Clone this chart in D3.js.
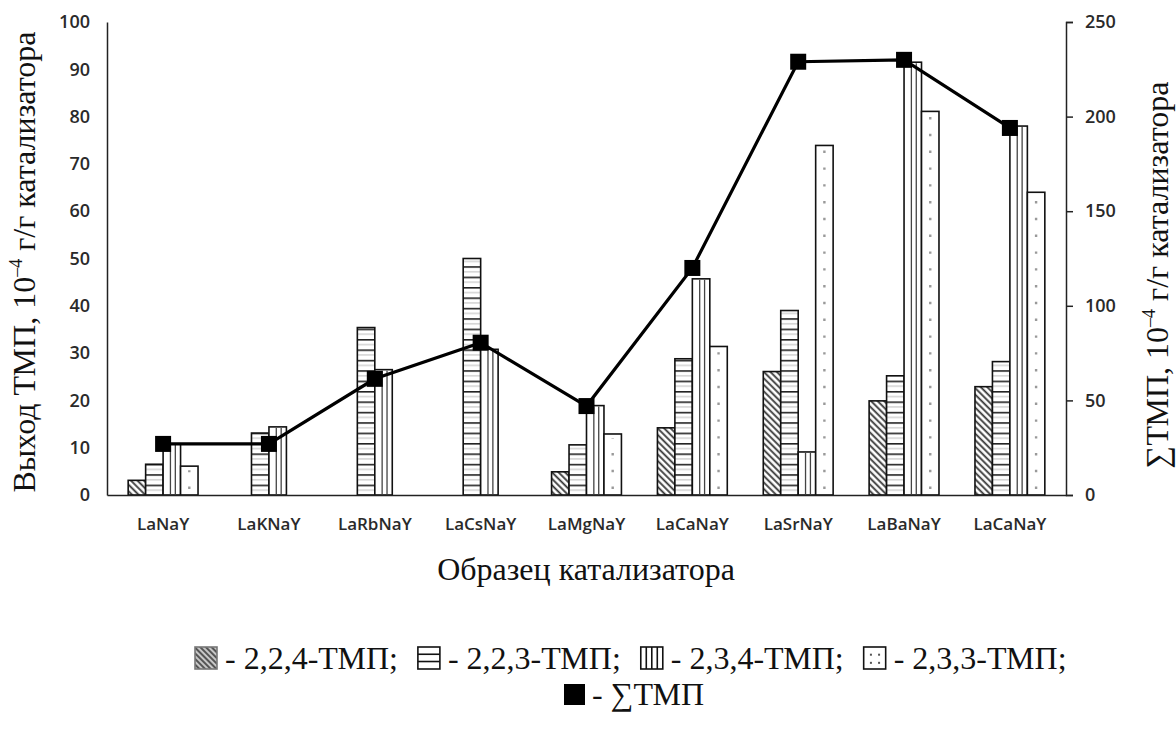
<!DOCTYPE html>
<html><head><meta charset="utf-8">
<script src="https://cdn.jsdelivr.net/npm/d3@7"></script>
<style>body{margin:0;background:#fff}svg{display:block}</style>
</head><body>
<script>
const categories = ["LaNaY","LaKNaY","LaRbNaY","LaCsNaY","LaMgNaY","LaCaNaY","LaSrNaY","LaBaNaY","LaCaNaY"];
const s224 = [3.1, 0, 0, 0, 4.9, 14.2, 26.1, 19.9, 22.9];
const s223 = [6.5, 13.1, 35.4, 50, 10.6, 28.8, 39.0, 25.2, 28.2];
const s234 = [10.8, 14.4, 26.5, 30.8, 18.9, 45.7, 9.1, 91.5, 78.0];
const s233 = [6.1, 0, 0, 0, 12.9, 31.4, 73.9, 81.1, 64.0];
const sumTMP = [27, 27, 61.4, 80.5, 47, 120, 229, 230, 194];
const leftTicks = [0,10,20,30,40,50,60,70,80,90,100];
const rightTicks = [0,50,100,150,200,250];
const seriesNames = ["2,2,4-ТМП","2,2,3-ТМП","2,3,4-ТМП","2,3,3-ТМП"];

const W = 1176, H = 729;
const L = 107, R = 1066, T = 22, B = 495;
const svg = d3.select("body").append("svg").attr("width", W).attr("height", H);
svg.append("rect").attr("width", W).attr("height", H).attr("fill", "#fff");

const defs = svg.append("defs");
const ph = defs.append("pattern").attr("id","hatch").attr("patternUnits","userSpaceOnUse")
  .attr("width",4.6).attr("height",4.6).attr("patternTransform","rotate(-45)");
ph.append("rect").attr("width",4.6).attr("height",4.6).attr("fill","#fff");
ph.append("line").attr("x1",1.2).attr("y1",0).attr("x2",1.2).attr("y2",4.6).attr("stroke","#333").attr("stroke-width",1.8);
const ph2 = defs.append("pattern").attr("id","hatchLeg").attr("patternUnits","userSpaceOnUse")
  .attr("width",4).attr("height",4).attr("patternTransform","rotate(-45)");
ph2.append("rect").attr("width",4).attr("height",4).attr("fill","#555");
ph2.append("line").attr("x1",2).attr("y1",0).attr("x2",2).attr("y2",4).attr("stroke","#eee").attr("stroke-width",1.5);
const phz = defs.append("pattern").attr("id","hstripe").attr("patternUnits","userSpaceOnUse")
  .attr("width",10).attr("height",10.4).attr("y", B);
phz.append("rect").attr("width",10).attr("height",10.4).attr("fill","#fff");
phz.append("line").attr("x1",0).attr("x2",10).attr("y1",0.8).attr("y2",0.8).attr("stroke","#222").attr("stroke-width",1.6);
phz.append("line").attr("x1",0).attr("x2",10).attr("y1",5.6).attr("y2",5.6).attr("stroke","#bbb").attr("stroke-width",1);

const x = d3.scaleBand().domain(d3.range(categories.length)).range([L, R]).paddingInner(0.34).paddingOuter(0.2);
const x1 = d3.scaleBand().domain([0,1,2,3]).range([0, x.bandwidth()]);
const yL = d3.scaleLinear().domain([0,100]).range([B, T]);
const yR = d3.scaleLinear().domain([0,250]).range([B, T]);

const tickFont = "'Open Sans', sans-serif";
const serif = "'Liberation Serif', 'Times New Roman', serif";

// left axis
const gL = svg.append("g").attr("transform",`translate(${L},0)`)
  .call(d3.axisLeft(yL).tickValues(leftTicks).tickSize(0).tickPadding(17));
gL.select(".domain").attr("stroke","#222").attr("stroke-width",1.5);
gL.selectAll("text").attr("font-family",tickFont).attr("font-size",18).attr("font-weight",600).attr("fill","#2a2a2a");

// right axis
const gR = svg.append("g").attr("transform",`translate(${R},0)`)
  .call(d3.axisRight(yR).tickValues(rightTicks).tickSize(7).tickPadding(12));
gR.select(".domain").attr("stroke","#222").attr("stroke-width",1.5);
gR.selectAll("line").attr("stroke","#222").attr("stroke-width",1.5);
gR.selectAll("text").attr("font-family",tickFont).attr("font-size",18).attr("font-weight",600).attr("fill","#2a2a2a");

// bars
const series = [s224, s223, s234, s233];
series.forEach((arr, si) => {
  const g = svg.append("g");
  arr.forEach((v, i) => {
    if (v <= 0) return;
    const bx = x(i) + x1(si), bw = x1.bandwidth(), by = yL(v), bh = yL(0) - yL(v);
    let fill = "#fff";
    if (si === 0) fill = "url(#hatch)";
    if (si === 1) fill = "url(#hstripe)";
    g.append("rect").attr("x", bx).attr("y", by).attr("width", bw).attr("height", bh)
      .attr("fill", fill).attr("stroke", "#111").attr("stroke-width", 1.6);
    if (si === 2) {
      [0.42, 0.7].forEach(f => g.append("line").attr("x1", bx + bw*f).attr("x2", bx + bw*f)
        .attr("y1", by + 1).attr("y2", B).attr("stroke", "#444").attr("stroke-width", 1.3));
    }
    if (si === 3) {
      g.append("line").attr("x1", bx + bw*0.5).attr("x2", bx + bw*0.5)
        .attr("y1", B - 6).attr("y2", by + 4).attr("stroke", "#999").attr("stroke-width", 2.4)
        .attr("stroke-dasharray", "2.4 14.4");
    }
  });
});

// x axis
const gX = svg.append("g").attr("transform",`translate(0,${B})`)
  .call(d3.axisBottom(x).tickSize(0).tickPadding(23).tickFormat(i => categories[i]));
gX.select(".domain").attr("stroke","#222").attr("stroke-width",1.5);
gX.selectAll("text").attr("font-family",tickFont).attr("font-size",17).attr("font-weight",600).attr("fill","#2a2a2a");

// sum line
const cx = i => x(i) + x.bandwidth()/2;
svg.append("path").datum(sumTMP)
  .attr("d", d3.line().x((d,i) => cx(i)).y(d => yR(d)))
  .attr("fill","none").attr("stroke","#000").attr("stroke-width",3.2);
svg.append("g").selectAll("rect").data(sumTMP).join("rect")
  .attr("x",(d,i)=>cx(i)-8).attr("y",d=>yR(d)-8).attr("width",16).attr("height",16).attr("fill","#000");

// titles
svg.append("text").attr("x", 586).attr("y", 580).attr("text-anchor","middle")
  .attr("font-family", serif).attr("font-size", 32).attr("fill","#111").text("Образец катализатора");

const lt = svg.append("text").attr("transform","translate(35,262) rotate(-90)").attr("text-anchor","middle")
  .attr("font-family", serif).attr("font-size", 32).attr("fill","#111");
lt.append("tspan").text("Выход ТМП, 10");
lt.append("tspan").attr("font-size",18).attr("dy",-13).text("–4");
lt.append("tspan").attr("dy",13).text(" г/г катализатора");

const rt = svg.append("text").attr("transform","translate(1168,275) rotate(-90)").attr("text-anchor","middle")
  .attr("font-family", serif).attr("font-size", 32).attr("fill","#111");
rt.append("tspan").text("∑ТМП, 10");
rt.append("tspan").attr("font-size",18).attr("dy",-13).text("–4");
rt.append("tspan").attr("dy",13).text(" г/г катализатора");

// legend
const lg = svg.append("g");
const swW = 22, swH = 22, ly = 669;
let cur = 195;
seriesNames.forEach((name, si) => {
  const sx = cur, sy = ly - 22;
  let fill = "#fff";
  if (si === 0) fill = "url(#hatchLeg)";
  lg.append("rect").attr("x", sx).attr("y", sy).attr("width", swW).attr("height", swH)
    .attr("fill", fill).attr("stroke", si === 0 ? "#777" : "#111").attr("stroke-width", 1.6);
  if (si === 1) {
    [0.33, 0.66].forEach(f => lg.append("line").attr("x1", sx).attr("x2", sx+swW)
      .attr("y1", sy+swH*f).attr("y2", sy+swH*f).attr("stroke","#111").attr("stroke-width",1.6));
  }
  if (si === 2) {
    [0.25, 0.5, 0.75].forEach(f => lg.append("line").attr("y1", sy).attr("y2", sy+swH)
      .attr("x1", sx+swW*f).attr("x2", sx+swW*f).attr("stroke","#111").attr("stroke-width",1.6));
  }
  if (si === 3) {
    [[0.33,0.35],[0.7,0.35],[0.33,0.72],[0.7,0.72]].forEach(p => lg.append("rect")
      .attr("x", sx+swW*p[0]-1).attr("y", sy+swH*p[1]-1).attr("width",2).attr("height",2).attr("fill","#555"));
  }
  const t = lg.append("text").attr("x", sx + swW + 8).attr("y", ly)
    .attr("font-family", serif).attr("font-size", 32).attr("fill","#111").text("- " + name + ";");
  cur = sx + swW + 8 + t.node().getComputedTextLength() + 20;
});
// sum legend
const l2y = 705;
lg.append("rect").attr("x", 564).attr("y", l2y - 21).attr("width", 21).attr("height", 21).attr("fill","#000");
lg.append("text").attr("x", 592).attr("y", l2y).attr("font-family", serif).attr("font-size", 32)
  .attr("fill","#111").text("- ∑ТМП");
</script>
</body></html>
